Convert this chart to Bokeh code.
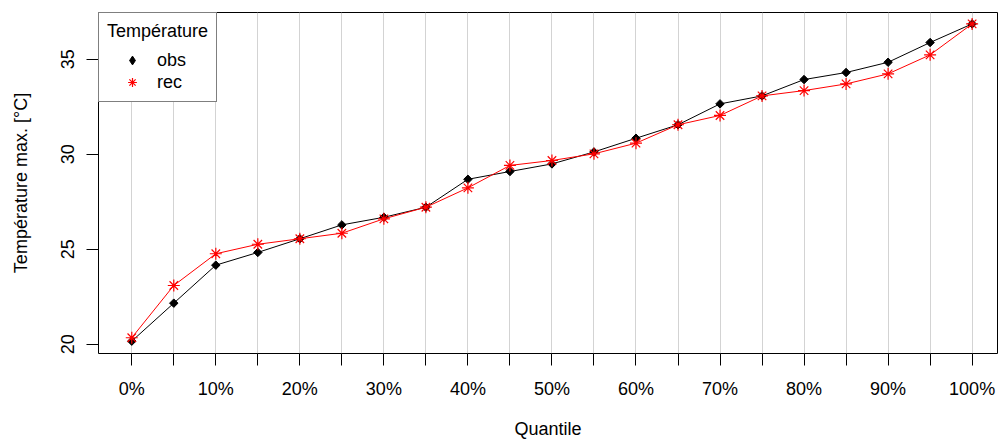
from bokeh.plotting import figure
from bokeh.models import Range1d, FixedTicker, Legend, LegendItem
from bokeh.embed import file_html
from bokeh.resources import INLINE
import math

# ---- data ----
quantiles = [0, 5, 10, 15, 20, 25, 30, 35, 40, 45, 50, 55, 60, 65, 70, 75, 80, 85, 90, 95, 100]
tick_labels = ["0%", "", "10%", "", "20%", "", "30%", "", "40%", "", "50%", "",
               "60%", "", "70%", "", "80%", "", "90%", "", "100%"]
obs = [20.16, 22.16, 24.16, 24.83, 25.55, 26.28, 26.68, 27.21, 28.68, 29.09, 29.49,
       30.12, 30.84, 31.55, 32.65, 33.07, 33.93, 34.30, 34.84, 35.88, 36.86]
rec = [20.34, 23.09, 24.76, 25.26, 25.55, 25.84, 26.60, 27.21, 28.23, 29.41, 29.67,
       30.02, 30.58, 31.55, 32.04, 33.07, 33.35, 33.70, 34.23, 35.23, 36.86]
y_ticks = [20, 25, 30, 35]

FONT = "Liberation Sans"
FS = "18px"

p = figure(width=999, height=442,
           x_range=Range1d(-3.96, 103.02), y_range=Range1d(19.51, 37.46),
           output_backend="svg", toolbar_location=None,
           min_border_left=98, min_border_right=2, min_border_top=12, min_border_bottom=89)

p.outline_line_color = "black"
p.outline_line_width = 1
p.background_fill_color = "white"
p.border_fill_color = "white"

# grid
p.xgrid.grid_line_color = "#d3d3d3"
p.xgrid.grid_line_width = 1
p.ygrid.grid_line_color = None

# x axis
xa = p.xaxis[0]
xa.ticker = FixedTicker(ticks=quantiles)
xa.major_label_overrides = {q: lab for q, lab in zip(quantiles, tick_labels)}
xa.axis_line_color = None
xa.major_tick_in = 0
xa.major_tick_out = 12
xa.major_tick_line_color = "black"
xa.minor_tick_line_color = None
xa.major_label_standoff = 13
xa.major_label_text_font = FONT
xa.major_label_text_font_size = FS
xa.major_label_text_color = "black"
xa.axis_label = "Quantile"
xa.axis_label_text_font = FONT
xa.axis_label_text_font_size = FS
xa.axis_label_text_font_style = "normal"
xa.axis_label_text_color = "black"
xa.axis_label_standoff = 17

# y axis
ya = p.yaxis[0]
ya.ticker = FixedTicker(ticks=y_ticks)
ya.axis_line_color = None
ya.major_tick_in = 0
ya.major_tick_out = 12
ya.major_tick_line_color = "black"
ya.minor_tick_line_color = None
ya.major_label_orientation = "parallel"
ya.major_label_standoff = 12
ya.major_label_text_font = FONT
ya.major_label_text_font_size = FS
ya.major_label_text_color = "black"
ya.axis_label = "Température max. [°C]"
ya.axis_label_text_font = FONT
ya.axis_label_text_font_size = FS
ya.axis_label_text_font_style = "normal"
ya.axis_label_text_color = "black"
ya.axis_label_standoff = 28

# series
p.line(quantiles, obs, line_color="black", line_width=1)
# legend key for the filled diamond (tiny, hidden under the first obs marker)
r_obs_key = p.scatter(quantiles[:1], obs[:1], marker="diamond", size=1,
                      fill_color="black", line_color="black")
p.scatter(quantiles, obs, marker="square", size=6, angle=math.pi / 4,
          fill_color="black", line_color="black")
p.line(quantiles, rec, line_color="#ff0000", line_width=1)
r_rec = p.scatter(quantiles, rec, marker="asterisk", size=12,
                  line_color="#ff0000", line_width=1.2)

legend = Legend(items=[LegendItem(label="obs", renderers=[r_obs_key]),
                       LegendItem(label="rec", renderers=[r_rec])],
                location="top_left", title="Température")
legend.margin = 0
legend.padding = 8
legend.spacing = 0
legend.title_standoff = 7
legend.title_text_font = FONT
legend.title_text_font_size = FS
legend.title_text_font_style = "normal"
legend.title_text_color = "black"
legend.label_text_font = FONT
legend.label_text_font_size = FS
legend.label_text_color = "black"
legend.glyph_width = 50
legend.glyph_height = 22
legend.label_height = 22
legend.label_standoff = 0
legend.border_line_color = "black"
legend.border_line_width = 1
legend.background_fill_color = "white"
legend.background_fill_alpha = 1.0
p.add_layout(legend, "center")

open("out.html", "w").write(file_html(p, INLINE))
